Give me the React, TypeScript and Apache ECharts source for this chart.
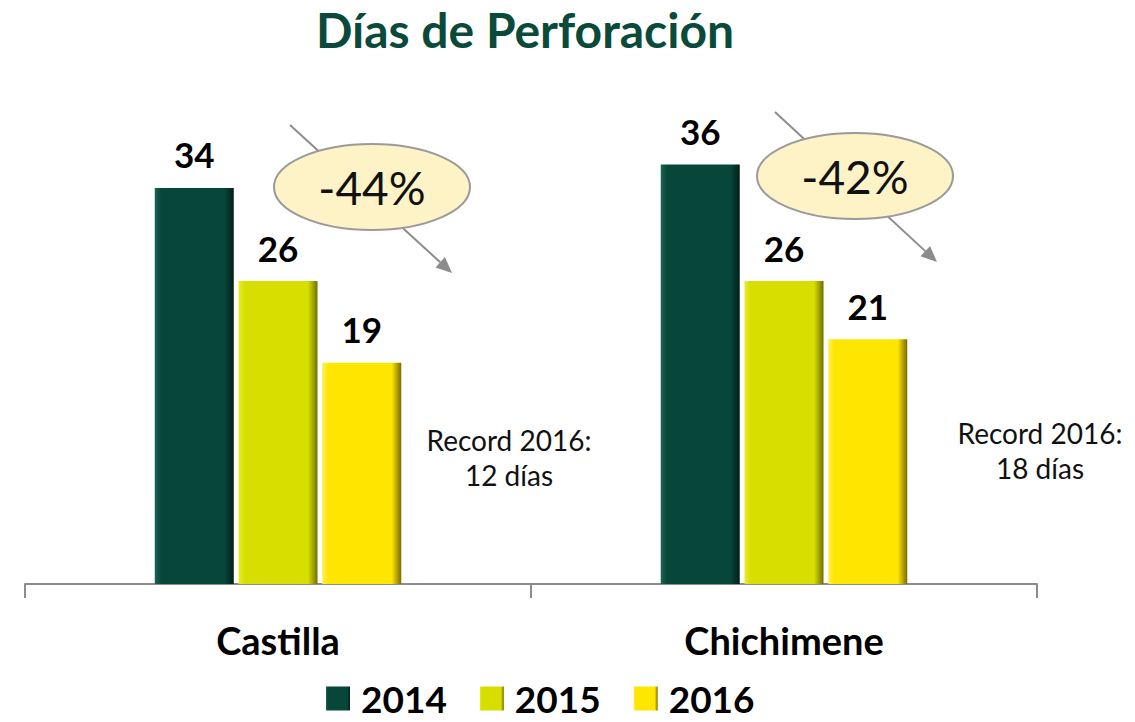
import React, { useEffect, useRef } from "react";
import * as echarts from "echarts";

const categories = ["Castilla", "Chichimene"];
const years = ["2014", "2015", "2016"];
const values2014 = [34, 36];
const values2015 = [26, 26];
const values2016 = [19, 21];
const reductions = ["-44%", "-42%"];
const records = ["Record 2016:\n12 días", "Record 2016:\n18 días"];

const baseColors = ["#07473A", "#D8DE00", "#FFE600"];
const darkColors = ["#021E17", "#6E7000", "#7A6A00"];
const lightColors = ["#1A6553", "#E6EC30", "#FFF050"];

const FONT = "Lato, 'Liberation Sans', sans-serif";

function barColor(i: number) {
  return new echarts.graphic.LinearGradient(0, 0, 1, 0, [
    { offset: 0, color: lightColors[i] },
    { offset: 0.08, color: baseColors[i] },
    { offset: 0.88, color: baseColors[i] },
    { offset: 1, color: darkColors[i] },
  ]);
}

function arrow(x1: number, y1: number, x2: number, y2: number) {
  const dx = x2 - x1;
  const dy = y2 - y1;
  const len = Math.sqrt(dx * dx + dy * dy);
  const ux = dx / len;
  const uy = dy / len;
  const hl = 16;
  const hw = 7;
  const bx = x2 - ux * hl;
  const by = y2 - uy * hl;
  return [
    {
      type: "line",
      z: 5,
      shape: { x1, y1, x2: bx, y2: by },
      style: { stroke: "#8C8C8C", lineWidth: 2 },
    },
    {
      type: "polygon",
      z: 5,
      shape: {
        points: [
          [x2, y2],
          [bx - uy * hw, by + ux * hw],
          [bx + uy * hw, by - ux * hw],
        ],
      },
      style: { fill: "#8C8C8C" },
    },
  ];
}

function bubble(cx: number, cy: number, text: string) {
  return [
    {
      type: "ellipse",
      z: 6,
      shape: { cx, cy, rx: 98, ry: 43 },
      style: { fill: "#FDF3C6", stroke: "#9A9A9A", lineWidth: 2 },
    },
    {
      type: "text",
      z: 7,
      x: cx,
      y: cy,
      style: {
        text,
        fill: "#111",
        font: `46px ${FONT}`,
        align: "center",
        verticalAlign: "middle",
      },
    },
  ];
}

function recordText(x: number, y: number, text: string) {
  return {
    type: "text",
    z: 7,
    x,
    y,
    style: {
      text,
      fill: "#111",
      font: `28px ${FONT}`,
      align: "center",
      verticalAlign: "middle",
      lineHeight: 35,
    },
  };
}

export default function App() {
  const ref = useRef<HTMLDivElement>(null);
  useEffect(() => {
    if (!ref.current) return;
    const chart = echarts.init(ref.current, undefined, { renderer: "svg" });
    const seriesData = [values2014, values2015, values2016];
    chart.setOption({
      animation: false,
      backgroundColor: "#FFFFFF",
      title: {
        text: "Días de Perforación",
        left: 520,
        textAlign: "center",
        top: 0,
        textStyle: {
          fontFamily: FONT,
          fontSize: 48,
          fontWeight: "bold",
          color: "#0A4A3A",
        },
      },
      legend: {
        top: 680,
        left: 326,
        padding: 0,
        data: years,
        icon: "rect",
        itemWidth: 24,
        itemHeight: 24,
        itemGap: 33,
        textStyle: {
          fontFamily: FONT,
          fontSize: 37,
          lineHeight: 36,
          fontWeight: "bold",
          color: "#000",
          padding: [0, 0, 0, 6],
        },
      },
      grid: { left: 25, right: 98, top: 118, bottom: 138, containLabel: false },
      xAxis: {
        type: "category",
        data: categories,
        axisLine: { lineStyle: { color: "#8C8C8C", width: 2 } },
        axisTick: { show: true, length: 14, lineStyle: { color: "#8C8C8C", width: 2 } },
        axisLabel: {
          margin: 37,
          fontFamily: FONT,
          fontSize: 38,
          fontWeight: "bold",
          color: "#000",
        },
      },
      yAxis: {
        type: "value",
        min: 0,
        max: 40,
        show: false,
        splitLine: { show: false },
      },
      series: years.map((y, i) => ({
        name: y,
        type: "bar",
        data: seriesData[i],
        barWidth: 79,
        barGap: "6%",
        itemStyle: { color: barColor(i) },
        label: {
          show: true,
          position: "top",
          distance: 16,
          fontFamily: FONT,
          fontSize: 35,
          fontWeight: "bold",
          color: "#000",
        },
      })),
      graphic: [
        ...arrow(290, 125, 452, 273),
        ...bubble(372, 187, reductions[0]),
        ...arrow(775, 112, 937, 262),
        ...bubble(855, 176, reductions[1]),
        recordText(509, 457, records[0]),
        recordText(1040, 450, records[1]),
      ],
    });
    return () => chart.dispose();
  }, []);
  return (
    <div
      ref={ref}
      style={{ position: "absolute", left: 0, top: 0, width: 1135, height: 722 }}
    />
  );
}
